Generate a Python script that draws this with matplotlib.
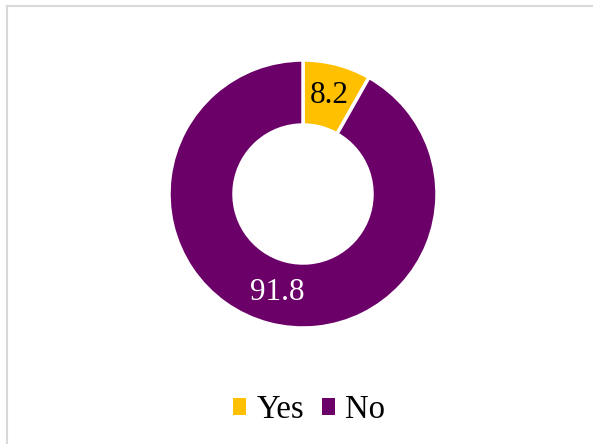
import matplotlib
matplotlib.use("Agg")
import matplotlib.pyplot as plt
from matplotlib.lines import Line2D
from matplotlib.patches import Patch
import numpy as np

categories = ["Yes", "No"]
values = [8.2, 91.8]
colors = ["#FFC000", "#6B0068"]
label_colors = ["black", "white"]

W, H = 593, 444
fig = plt.figure(figsize=(W / 100, H / 100), dpi=100)
fig.patch.set_facecolor("white")

# chart-area frame (left and top edges visible)
fig.add_artist(Line2D([6.5 / W, 6.5 / W], [0, 1 - 6 / H], color="#D9D9D9", lw=1.5,
                      transform=fig.transFigure))
fig.add_artist(Line2D([6.5 / W, 1], [1 - 6 / H, 1 - 6 / H], color="#D9D9D9", lw=1.5,
                      transform=fig.transFigure))

cx, cy, r = 303, 194, 134
ax = fig.add_axes([(cx - r) / W, (H - cy - r) / H, 2 * r / W, 2 * r / H])
ax.set_aspect("equal")

inner = 69 / 134
ax.pie(values, colors=colors, startangle=90, counterclock=False, radius=1.0,
       wedgeprops=dict(width=1 - inner, edgecolor="white", linewidth=2.5))
ax.set_xlim(-1, 1)
ax.set_ylim(-1, 1)

mid_r = (1 + inner) / 2
start = 90.0
for v, lc in zip(values, label_colors):
    ang = np.deg2rad(start - v * 3.6 / 2)
    start -= v * 3.6
    ax.text(mid_r * np.cos(ang), mid_r * np.sin(ang), f"{v}", ha="center", va="center",
            fontsize=22.5, color=lc, family="Liberation Serif")

handles = [Patch(facecolor=c, edgecolor="none") for c in colors]
fig.legend(handles, categories, loc="center", bbox_to_anchor=(309 / W, 1 - 410 / H),
           ncol=2, frameon=False, handlelength=0.4, handleheight=0.4,
           handletextpad=0.3, columnspacing=0.55,
           prop={"family": "Liberation Serif", "size": 23.5})

fig.savefig("out.png", dpi=100, facecolor="white")
